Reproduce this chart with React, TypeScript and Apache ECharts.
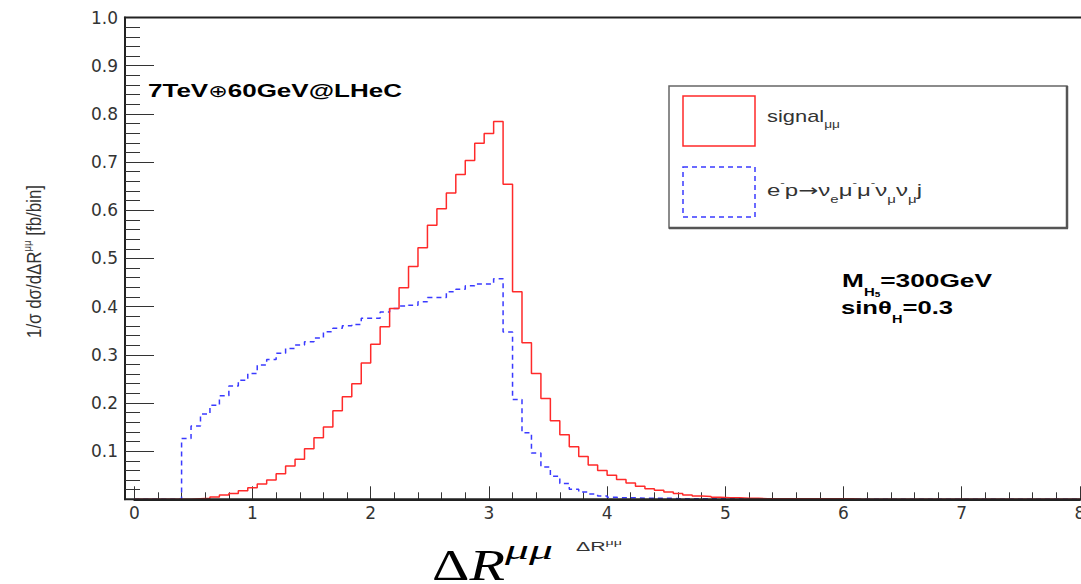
import React, { useEffect, useRef } from 'react';
import * as echarts from 'echarts';

// ---- data ----
const BIN_WIDTH = 0.08; // 100 bins over 0..8
const X_MIN = 0;
const X_MAX = 8;
const Y_MIN = 0;
const Y_MAX = 1;

// signal_mumu (red, solid)
const signalValues = [
  0, 0, 0, 0, 0, 0, 0.001, 0.002, 0.005, 0.009,
  0.012, 0.018, 0.024, 0.032, 0.040, 0.053, 0.069, 0.083, 0.105, 0.128,
  0.150, 0.184, 0.213, 0.240, 0.283, 0.322, 0.358, 0.396, 0.439, 0.483,
  0.522, 0.569, 0.603, 0.636, 0.674, 0.703, 0.739, 0.759, 0.784, 0.654,
  0.431, 0.325, 0.261, 0.209, 0.163, 0.134, 0.109, 0.089, 0.071, 0.060,
  0.050, 0.041, 0.034, 0.027, 0.022, 0.019, 0.015, 0.012, 0.009, 0.007,
  0.006, 0.004, 0.003, 0.003, 0.002, 0.002, 0.001, 0.001, 0.001, 0.001,
  0.001, 0.001, 0.001, 0.001, 0.001, 0.001, 0, 0, 0, 0,
  0, 0, 0, 0, 0, 0, 0, 0, 0, 0,
  0, 0, 0, 0, 0, 0, 0, 0, 0, 0,
];

// e- p -> nu_e mu- mu- nu_mu nu_mu j (blue, dashed)
const backgroundValues = [
  0, 0, 0, 0, 0, 0.126, 0.152, 0.177, 0.195, 0.215,
  0.235, 0.247, 0.261, 0.279, 0.290, 0.303, 0.313, 0.320, 0.327, 0.335,
  0.348, 0.355, 0.360, 0.363, 0.376, 0.376, 0.389, 0.396, 0.401, 0.403,
  0.410, 0.419, 0.419, 0.431, 0.436, 0.443, 0.447, 0.447, 0.458, 0.347,
  0.207, 0.138, 0.096, 0.067, 0.048, 0.033, 0.021, 0.015, 0.011, 0.007,
  0.004, 0.003, 0.003, 0.002, 0.002, 0.002, 0.002, 0.001, 0.001, 0.001,
  0.001, 0.001, 0.001, 0.001, 0, 0, 0, 0, 0, 0,
  0, 0, 0, 0, 0, 0, 0, 0, 0, 0,
  0, 0, 0, 0, 0, 0, 0, 0, 0, 0,
  0, 0, 0, 0, 0, 0, 0, 0, 0, 0,
];

const SANS = 'Liberation Sans';
const SERIF = 'Liberation Serif';

type Sty = {
  fontSize: number;
  fontWeight?: string;
  fontStyle?: string;
  fontFamily?: string;
  lineHeight?: number;
  verticalAlign?: string;
  fill?: string;
};

let measureCtx: CanvasRenderingContext2D | null = null;
function measure(text: string, s: Sty): number {
  if (!measureCtx) measureCtx = document.createElement('canvas').getContext('2d');
  const ctx = measureCtx as CanvasRenderingContext2D;
  ctx.font = `${s.fontStyle || 'normal'} ${s.fontWeight || 'normal'} ${s.fontSize}px "${s.fontFamily || SANS}"`;
  return ctx.measureText(text).width;
}

function richLabel(
  tokens: [string, string][],
  styles: Record<string, Sty>,
  o: { x: number; y: number; width: number; color: string; align?: string; rotation?: number; scaleY?: number }
) {
  let w = 0;
  tokens.forEach(([t, k]) => {
    w += measure(t, styles[k]);
  });
  const rich: Record<string, any> = {};
  Object.keys(styles).forEach((k) => {
    rich[k] = { fontFamily: SANS, fill: o.color, ...styles[k] };
  });
  return {
    type: 'text',
    x: o.x,
    y: o.y,
    rotation: o.rotation || 0,
    scaleX: o.width / w,
    scaleY: o.scaleY || 1,
    silent: true,
    z: 100,
    style: {
      text: tokens.map(([t, k]) => `{${k}|${t}}`).join(''),
      rich,
      fill: o.color,
      align: o.align || 'left',
      verticalAlign: 'middle',
    },
  };
}

function toSteps(values: number[]): [number, number][] {
  const pts: [number, number][] = values.map((v, i) => [+(X_MIN + i * BIN_WIDTH).toFixed(2), v]);
  pts.push([X_MAX, values[values.length - 1]]);
  return pts;
}

const RED = '#ff2a2a';
const BLUE = '#3a3aff';

export default function App() {
  const ref = useRef<HTMLDivElement>(null);

  useEffect(() => {
    if (!ref.current) return;
    const chart = echarts.init(ref.current, undefined, { renderer: 'svg' });

    const frameColor = '#222';
    const tickColor = '#333';

    const graphic: any[] = [
      // top frame line
      { type: 'line', z: 50, silent: true, shape: { x1: 124, y1: 17.5, x2: 1081, y2: 17.5 }, style: { stroke: frameColor, lineWidth: 2 } },
      // bottom frame line (extends left of x=0)
      { type: 'line', z: 50, silent: true, shape: { x1: 124, y1: 499.3, x2: 1081, y2: 499.3 }, style: { stroke: frameColor, lineWidth: 2 } },
      // legend box
      { type: 'rect', z: 60, silent: true, shape: { x: 669, y: 86, width: 398, height: 142 }, style: { fill: '#fff', stroke: '#666', lineWidth: 1.5 } },
      { type: 'line', z: 61, silent: true, shape: { x1: 1067, y1: 86, x2: 1067, y2: 228.5 }, style: { stroke: '#555', lineWidth: 2.5 } },
      { type: 'line', z: 61, silent: true, shape: { x1: 669, y1: 228, x2: 1068, y2: 228 }, style: { stroke: '#555', lineWidth: 2.5 } },
      { type: 'rect', z: 62, silent: true, shape: { x: 683, y: 96, width: 72, height: 50 }, style: { fill: 'none', stroke: RED, lineWidth: 1.5 } },
      { type: 'rect', z: 62, silent: true, shape: { x: 683, y: 167, width: 72, height: 50 }, style: { fill: 'none', stroke: BLUE, lineWidth: 1.5, lineDash: [5, 4] } },
      // legend texts
      richLabel(
        [['signal', 'm'], ['μμ', 'sub']],
        { m: { fontSize: 16, lineHeight: 26 }, sub: { fontSize: 10, lineHeight: 8, verticalAlign: 'bottom' } },
        { x: 767, y: 117, width: 73, color: '#333' }
      ),
      richLabel(
        [
          ['e', 'm'], ['-', 'sup'], ['p', 'm'], ['→', 'ar'], ['ν', 'm'], ['e', 'sub'], ['μ', 'm'], ['-', 'sup'], ['μ', 'm'], ['-', 'sup'],
          ['ν', 'm'], ['μ', 'sub'], ['ν', 'm'], ['μ', 'sub'], ['j', 'm'],
        ],
        {
          m: { fontSize: 16, lineHeight: 26 },
          ar: { fontSize: 16, lineHeight: 26, fontFamily: 'DejaVu Sans' },
          sup: { fontSize: 9, lineHeight: 14, verticalAlign: 'top' },
          sub: { fontSize: 10, lineHeight: 14, verticalAlign: 'bottom' },
        },
        { x: 767, y: 191, width: 155, color: '#333' }
      ),
      // annotations
      richLabel(
        [['7TeV', 'b'], ['⊕', 'o'], ['60GeV@LHeC', 'b']],
        {
          b: { fontSize: 19, fontWeight: 'bold', lineHeight: 24 },
          o: { fontSize: 17, fontWeight: 'normal', lineHeight: 24, fontFamily: 'DejaVu Sans' },
        },
        { x: 148, y: 90.8, width: 254, color: '#000' }
      ),
      richLabel(
        [['M', 'b'], ['H', 's'], ['5', 'ss'], ['=300GeV', 'b']],
        {
          b: { fontSize: 18.5, fontWeight: 'bold', lineHeight: 36 },
          s: { fontSize: 10.5, fontWeight: 'bold', lineHeight: 12, verticalAlign: 'bottom' },
          ss: { fontSize: 7, fontWeight: 'bold', lineHeight: 5, verticalAlign: 'bottom' },
        },
        { x: 842, y: 280, width: 150, color: '#000' }
      ),
      richLabel(
        [['sinθ', 'b'], ['H', 's'], ['=0.3', 'b']],
        {
          b: { fontSize: 18.5, fontWeight: 'bold', lineHeight: 36 },
          s: { fontSize: 10.5, fontWeight: 'bold', lineHeight: 12, verticalAlign: 'bottom' },
        },
        { x: 841, y: 307.5, width: 112, color: '#000' }
      ),
      // y-axis title
      richLabel(
        [['1/σ dσ/dΔR', 'm'], ['μμ', 'sup'], [' [fb/bin]', 'm']],
        { m: { fontSize: 15, lineHeight: 20 }, sup: { fontSize: 8.5, lineHeight: 8, verticalAlign: 'top' } },
        { x: 34.5, y: 261.5, width: 153, color: '#333', align: 'center', rotation: Math.PI / 2, scaleY: 1.3 }
      ),
      // small x-axis title
      richLabel(
        [['ΔR', 'm'], ['μμ', 'sup']],
        { m: { fontSize: 12, lineHeight: 18 }, sup: { fontSize: 8, lineHeight: 8, verticalAlign: 'top' } },
        { x: 576, y: 547, width: 46, color: '#333' }
      ),
      // big x-axis title
      richLabel(
        [['Δ', 'u'], ['R', 'i']],
        { u: { fontSize: 44, fontFamily: SERIF, lineHeight: 36 }, i: { fontSize: 44, fontFamily: SERIF, fontStyle: 'italic', lineHeight: 36 } },
        { x: 432, y: 565, width: 73, color: '#000' }
      ),
      richLabel(
        [['μμ', 'i']],
        { i: { fontSize: 28, fontFamily: SERIF, fontStyle: 'italic', lineHeight: 30 } },
        { x: 505, y: 549, width: 48, color: '#000' }
      ),
    ];

    const option: any = {
      animation: false,
      backgroundColor: '#ffffff',
      grid: {
        left: 134.3,
        right: 1.1,
        top: 17.5,
        bottom: 84.7,
        containLabel: false,
        outerBoundsMode: 'none',
      },
      xAxis: {
        type: 'value',
        min: X_MIN,
        max: X_MAX,
        interval: 1,
        axisLine: { show: true, onZero: false, lineStyle: { color: frameColor, width: 2 } },
        axisTick: { show: true, inside: true, length: 13, lineStyle: { color: tickColor, width: 1 } },
        minorTick: { show: true, splitNumber: 5, length: 7, lineStyle: { color: tickColor, width: 1 } },
        splitLine: { show: false },
        minorSplitLine: { show: false },
        axisLabel: {
          margin: 5,
          color: '#333',
          fontFamily: 'DejaVu Sans',
          fontSize: 17,
          showMinLabel: true,
          showMaxLabel: true,
          hideOverlap: false,
        },
      },
      yAxis: {
        type: 'value',
        min: Y_MIN,
        max: Y_MAX,
        interval: 0.1,
        offset: 9.3,
        axisLine: { show: true, onZero: false, lineStyle: { color: frameColor, width: 2 } },
        axisTick: { show: true, inside: true, length: 29, lineStyle: { color: tickColor, width: 1 } },
        minorTick: { show: true, splitNumber: 5, length: 15, lineStyle: { color: tickColor, width: 1 } },
        splitLine: { show: false },
        minorSplitLine: { show: false },
        axisLabel: {
          margin: 7,
          color: '#333',
          fontFamily: 'DejaVu Sans',
          fontSize: 17,
          formatter: (v: number) => (v === 0 ? '' : v.toFixed(1)),
          showMaxLabel: true,
        },
      },
      series: [
        {
          type: 'line',
          name: 'background',
          step: 'end',
          showSymbol: false,
          symbol: 'none',
          data: toSteps(backgroundValues),
          lineStyle: { color: BLUE, width: 1.5, type: [5, 4] },
          itemStyle: { color: BLUE },
          z: 3,
        },
        {
          type: 'line',
          name: 'signal',
          step: 'end',
          showSymbol: false,
          symbol: 'none',
          data: toSteps(signalValues),
          lineStyle: { color: RED, width: 1.5 },
          itemStyle: { color: RED },
          z: 4,
        },
      ],
      graphic,
    };

    chart.setOption(option);
    return () => {
      chart.dispose();
    };
  }, []);

  return (
    <div
      ref={ref}
      style={{ position: 'absolute', left: 0, top: 0, width: 1081, height: 584, background: '#fff' }}
    />
  );
}
